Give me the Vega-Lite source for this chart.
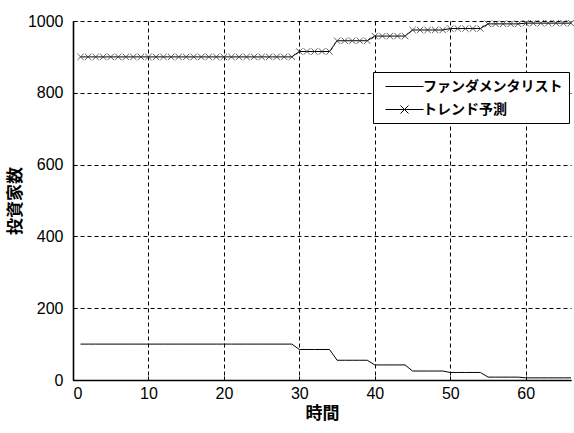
{
  "$schema": "https://vega.github.io/schema/vega-lite/v6.json",
  "width": 498,
  "height": 359,
  "autosize": {"type": "none"},
  "padding": {"left": 73, "top": 21, "right": 3, "bottom": 53},
  "background": "white",
  "config": {
    "view": {"stroke": null},
    "font": "Liberation Sans",
    "axis": {
      "domainColor": "black",
      "domainWidth": 1.6,
      "grid": true,
      "gridColor": "black",
      "gridDash": [4, 3],
      "gridOpacity": 1,
      "gridWidth": 1,
      "tickColor": "black",
      "tickSize": -4,
      "labelColor": "black",
      "labelFont": "Liberation Sans",
      "labelFontSize": 16,
      "titleColor": "black",
      "titleFont": "Noto Sans CJK JP",
      "titleFontWeight": "bold",
      "titleFontSize": 17
    }
  },
  "data": {"values": [
    {"t":1,"s":"ファンダメンタリスト","v":100},{"t":2,"s":"ファンダメンタリスト","v":100},{"t":3,"s":"ファンダメンタリスト","v":100},{"t":4,"s":"ファンダメンタリスト","v":100},{"t":5,"s":"ファンダメンタリスト","v":100},{"t":6,"s":"ファンダメンタリスト","v":100},{"t":7,"s":"ファンダメンタリスト","v":100},{"t":8,"s":"ファンダメンタリスト","v":100},{"t":9,"s":"ファンダメンタリスト","v":100},{"t":10,"s":"ファンダメンタリスト","v":100},
    {"t":11,"s":"ファンダメンタリスト","v":100},{"t":12,"s":"ファンダメンタリスト","v":100},{"t":13,"s":"ファンダメンタリスト","v":100},{"t":14,"s":"ファンダメンタリスト","v":100},{"t":15,"s":"ファンダメンタリスト","v":100},{"t":16,"s":"ファンダメンタリスト","v":100},{"t":17,"s":"ファンダメンタリスト","v":100},{"t":18,"s":"ファンダメンタリスト","v":100},{"t":19,"s":"ファンダメンタリスト","v":100},{"t":20,"s":"ファンダメンタリスト","v":100},
    {"t":21,"s":"ファンダメンタリスト","v":100},{"t":22,"s":"ファンダメンタリスト","v":100},{"t":23,"s":"ファンダメンタリスト","v":100},{"t":24,"s":"ファンダメンタリスト","v":100},{"t":25,"s":"ファンダメンタリスト","v":100},{"t":26,"s":"ファンダメンタリスト","v":100},{"t":27,"s":"ファンダメンタリスト","v":100},{"t":28,"s":"ファンダメンタリスト","v":100},{"t":29,"s":"ファンダメンタリスト","v":100},{"t":30,"s":"ファンダメンタリスト","v":85},
    {"t":31,"s":"ファンダメンタリスト","v":85},{"t":32,"s":"ファンダメンタリスト","v":85},{"t":33,"s":"ファンダメンタリスト","v":85},{"t":34,"s":"ファンダメンタリスト","v":85},{"t":35,"s":"ファンダメンタリスト","v":55},{"t":36,"s":"ファンダメンタリスト","v":55},{"t":37,"s":"ファンダメンタリスト","v":55},{"t":38,"s":"ファンダメンタリスト","v":55},{"t":39,"s":"ファンダメンタリスト","v":55},{"t":40,"s":"ファンダメンタリスト","v":42},
    {"t":41,"s":"ファンダメンタリスト","v":42},{"t":42,"s":"ファンダメンタリスト","v":42},{"t":43,"s":"ファンダメンタリスト","v":42},{"t":44,"s":"ファンダメンタリスト","v":42},{"t":45,"s":"ファンダメンタリスト","v":25},{"t":46,"s":"ファンダメンタリスト","v":25},{"t":47,"s":"ファンダメンタリスト","v":25},{"t":48,"s":"ファンダメンタリスト","v":25},{"t":49,"s":"ファンダメンタリスト","v":25},{"t":50,"s":"ファンダメンタリスト","v":21},
    {"t":51,"s":"ファンダメンタリスト","v":21},{"t":52,"s":"ファンダメンタリスト","v":21},{"t":53,"s":"ファンダメンタリスト","v":21},{"t":54,"s":"ファンダメンタリスト","v":21},{"t":55,"s":"ファンダメンタリスト","v":8},{"t":56,"s":"ファンダメンタリスト","v":8},{"t":57,"s":"ファンダメンタリスト","v":8},{"t":58,"s":"ファンダメンタリスト","v":8},{"t":59,"s":"ファンダメンタリスト","v":8},{"t":60,"s":"ファンダメンタリスト","v":6},
    {"t":61,"s":"ファンダメンタリスト","v":6},{"t":62,"s":"ファンダメンタリスト","v":6},{"t":63,"s":"ファンダメンタリスト","v":6},{"t":64,"s":"ファンダメンタリスト","v":6},{"t":65,"s":"ファンダメンタリスト","v":6},{"t":66,"s":"ファンダメンタリスト","v":6},
    {"t":1,"s":"トレンド予測","v":900},{"t":2,"s":"トレンド予測","v":900},{"t":3,"s":"トレンド予測","v":900},{"t":4,"s":"トレンド予測","v":900},{"t":5,"s":"トレンド予測","v":900},{"t":6,"s":"トレンド予測","v":900},{"t":7,"s":"トレンド予測","v":900},{"t":8,"s":"トレンド予測","v":900},{"t":9,"s":"トレンド予測","v":900},{"t":10,"s":"トレンド予測","v":900},
    {"t":11,"s":"トレンド予測","v":900},{"t":12,"s":"トレンド予測","v":900},{"t":13,"s":"トレンド予測","v":900},{"t":14,"s":"トレンド予測","v":900},{"t":15,"s":"トレンド予測","v":900},{"t":16,"s":"トレンド予測","v":900},{"t":17,"s":"トレンド予測","v":900},{"t":18,"s":"トレンド予測","v":900},{"t":19,"s":"トレンド予測","v":900},{"t":20,"s":"トレンド予測","v":900},
    {"t":21,"s":"トレンド予測","v":900},{"t":22,"s":"トレンド予測","v":900},{"t":23,"s":"トレンド予測","v":900},{"t":24,"s":"トレンド予測","v":900},{"t":25,"s":"トレンド予測","v":900},{"t":26,"s":"トレンド予測","v":900},{"t":27,"s":"トレンド予測","v":900},{"t":28,"s":"トレンド予測","v":900},{"t":29,"s":"トレンド予測","v":900},{"t":30,"s":"トレンド予測","v":915},
    {"t":31,"s":"トレンド予測","v":915},{"t":32,"s":"トレンド予測","v":915},{"t":33,"s":"トレンド予測","v":915},{"t":34,"s":"トレンド予測","v":915},{"t":35,"s":"トレンド予測","v":945},{"t":36,"s":"トレンド予測","v":945},{"t":37,"s":"トレンド予測","v":945},{"t":38,"s":"トレンド予測","v":945},{"t":39,"s":"トレンド予測","v":945},{"t":40,"s":"トレンド予測","v":958},
    {"t":41,"s":"トレンド予測","v":958},{"t":42,"s":"トレンド予測","v":958},{"t":43,"s":"トレンド予測","v":958},{"t":44,"s":"トレンド予測","v":958},{"t":45,"s":"トレンド予測","v":975},{"t":46,"s":"トレンド予測","v":975},{"t":47,"s":"トレンド予測","v":975},{"t":48,"s":"トレンド予測","v":975},{"t":49,"s":"トレンド予測","v":975},{"t":50,"s":"トレンド予測","v":979},
    {"t":51,"s":"トレンド予測","v":979},{"t":52,"s":"トレンド予測","v":979},{"t":53,"s":"トレンド予測","v":979},{"t":54,"s":"トレンド予測","v":979},{"t":55,"s":"トレンド予測","v":992},{"t":56,"s":"トレンド予測","v":992},{"t":57,"s":"トレンド予測","v":992},{"t":58,"s":"トレンド予測","v":992},{"t":59,"s":"トレンド予測","v":992},{"t":60,"s":"トレンド予測","v":994},
    {"t":61,"s":"トレンド予測","v":994},{"t":62,"s":"トレンド予測","v":994},{"t":63,"s":"トレンド予測","v":994},{"t":64,"s":"トレンド予測","v":994},{"t":65,"s":"トレンド予測","v":994},{"t":66,"s":"トレンド予測","v":994}
  ]},
  "encoding": {
    "x": {"field": "t", "type": "quantitative", "title": "時間",
      "scale": {"domain": [0, 66], "nice": false},
      "axis": {"values": [0, 10, 20, 30, 40, 50, 60], "format": "d", "labelPadding": 9, "titlePadding": 4}},
    "y": {"field": "v", "type": "quantitative", "title": "投資家数",
      "scale": {"domain": [0, 1000], "nice": false},
      "axis": {"values": [0, 200, 400, 600, 800, 1000], "format": "d", "labelPadding": 14, "titlePadding": 3}}
  },
  "layer": [
    {
      "mark": {"type": "line", "strokeWidth": 1, "interpolate": "linear"},
      "encoding": {
        "color": {"field": "s", "type": "nominal",
          "scale": {"domain": ["ファンダメンタリスト", "トレンド予測"], "range": ["black", "black"]},
          "legend": {
            "title": null,
            "orient": "none",
            "legendX": 300,
            "legendY": 51,
            "strokeColor": "black",
            "fillColor": "white",
            "padding": 6,
            "cornerRadius": 0,
            "symbolType": "stroke",
            "symbolSize": 256,
            "symbolOffset": 17,
            "symbolStrokeWidth": 1,
            "symbolStrokeColor": "black",
            "labelFont": "Noto Sans CJK JP",
            "labelFontWeight": "bold",
            "labelFontSize": 14,
            "labelColor": "black",
            "labelOffset": 10,
            "rowPadding": 7,
            "encode": {
              "symbols": {"update": {"shape": {"signal": "datum.value == 'トレンド予測' ? 'M-2.375,0L2.375,0M-0.5,-0.5L0.5,0.5M-0.5,0.5L0.5,-0.5' : 'M-2.375,0L2.375,0'"}}}
            }
          }
        }
      }
    },
    {
      "transform": [{"filter": "datum.s == 'トレンド予測'"}],
      "mark": {"type": "point", "shape": "M-1,-1L1,1M-1,1L1,-1", "filled": false, "size": 40, "strokeWidth": 0.8, "color": "#333", "opacity": 1}
    }
  ]
}
